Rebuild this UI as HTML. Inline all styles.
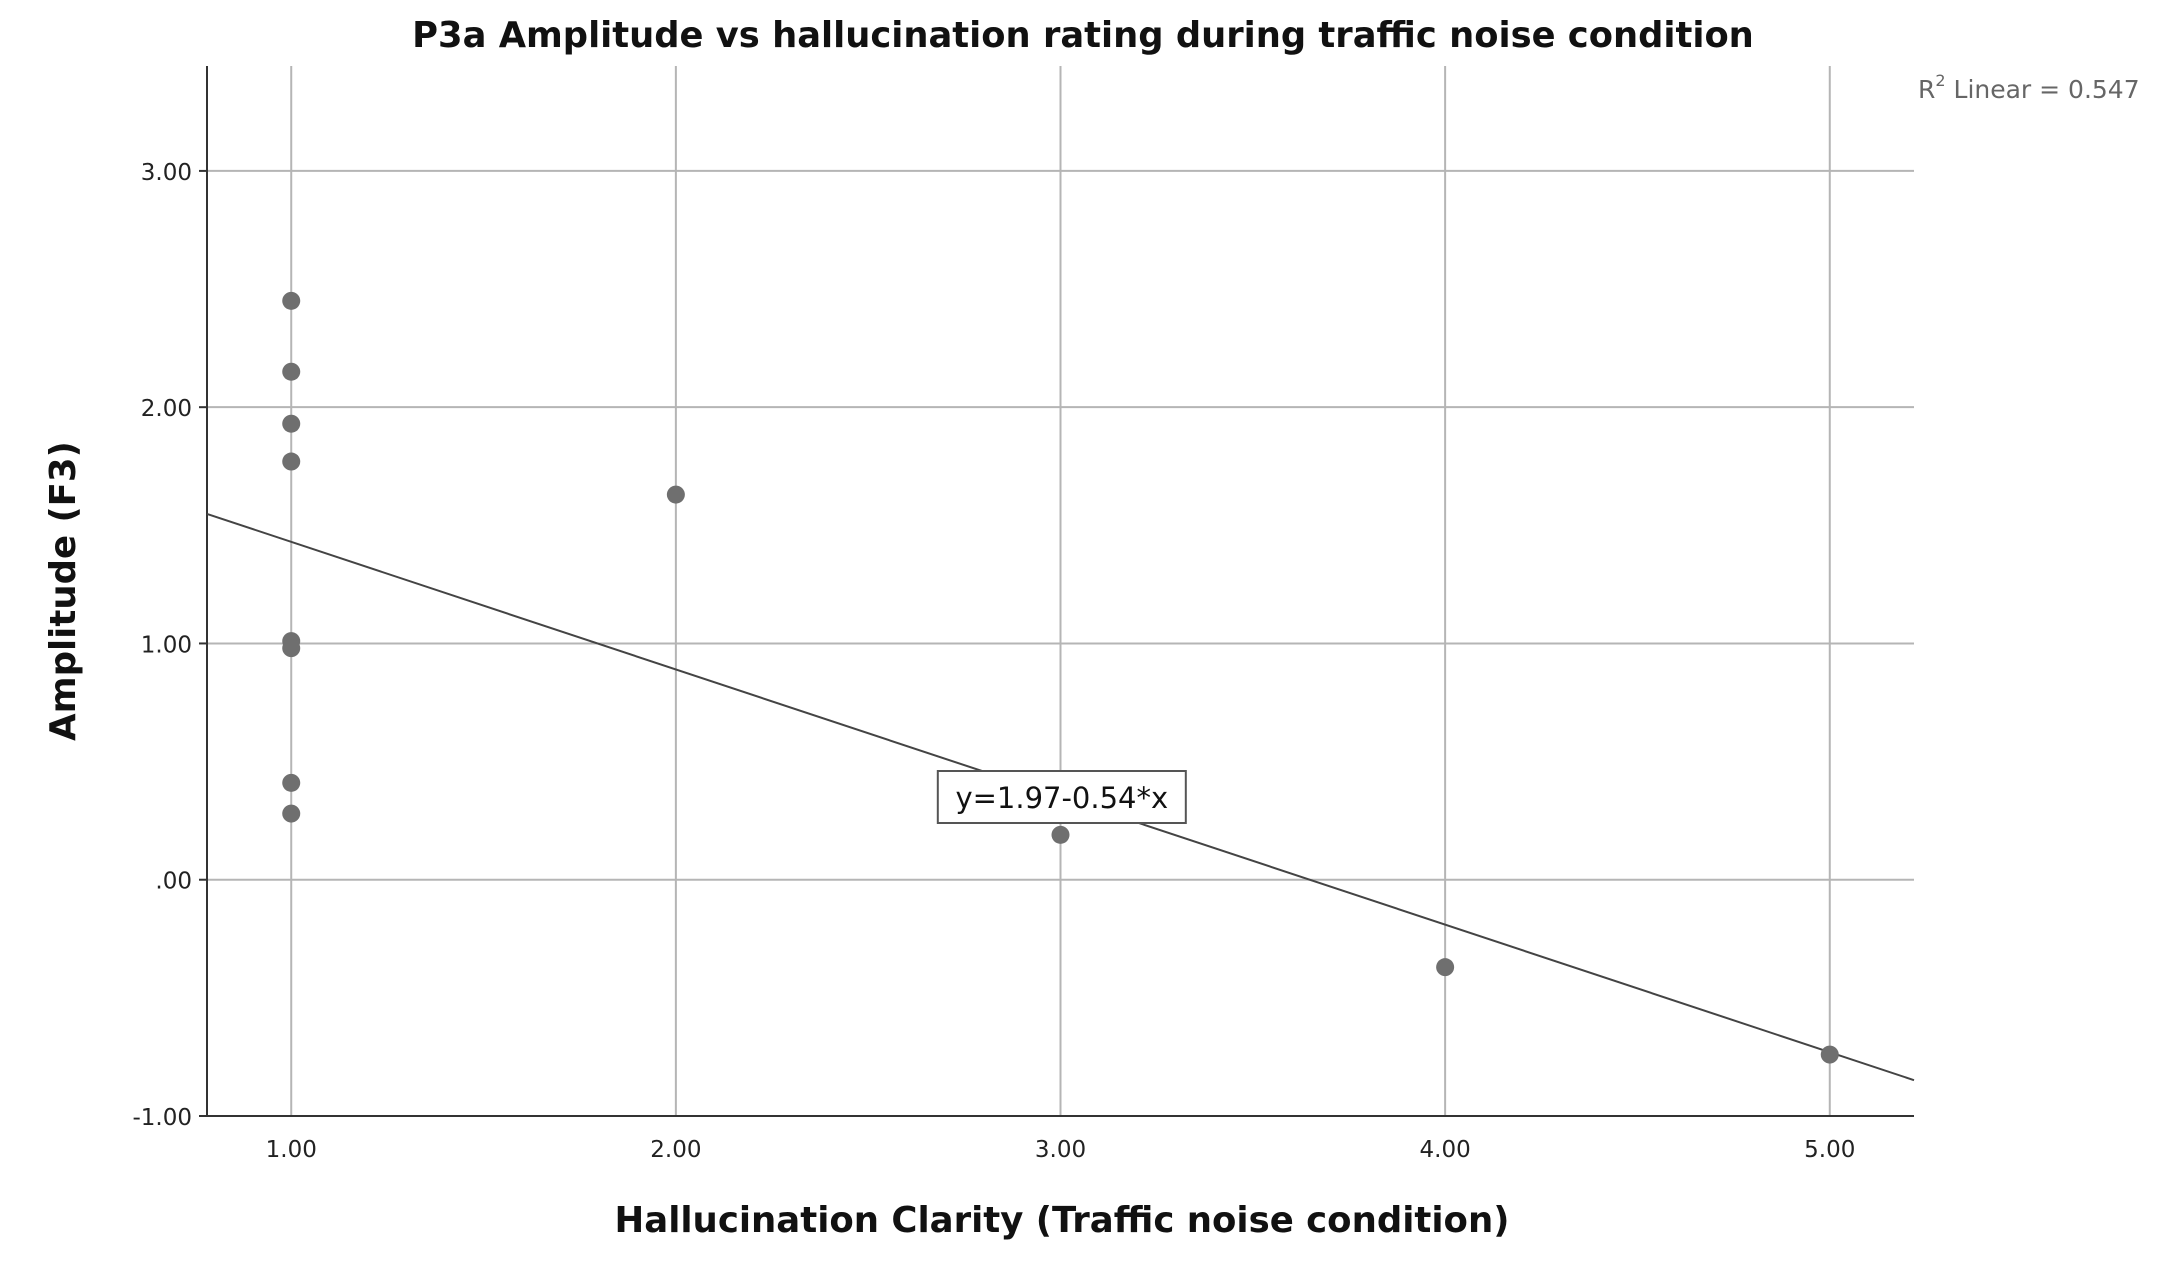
<!DOCTYPE html>
<html><head><meta charset="utf-8"><style>
html,body{margin:0;padding:0;background:#fff;}
svg{display:block;font-family:"DejaVu Sans","Liberation Sans",sans-serif;}
</style></head><body>
<svg id="chart" width="2165" height="1275" viewBox="0 0 2165 1275">
<rect width="2165" height="1275" fill="#fff"/>
<text x="1083" y="47" text-anchor="middle" font-size="35.3" font-weight="bold" fill="#111">P3a Amplitude vs hallucination rating during traffic noise condition</text>
<text x="1918" y="98" font-size="25" fill="#666">R<tspan font-size="16" dy="-12">2</tspan><tspan dy="12"> Linear = 0.547</tspan></text>
<g id="grid"></g>
<g id="axes"></g>
<g id="fit"></g>
<g id="pts"></g>
<text transform="translate(75,591) rotate(-90)" text-anchor="middle" font-size="35.5" font-weight="bold" fill="#111">Amplitude (F3)</text>
<text x="1062" y="1232" text-anchor="middle" font-size="35.5" font-weight="bold" fill="#111">Hallucination Clarity (Traffic noise condition)</text>
</svg>
<script>
const xTicks=[1,2,3,4,5];
const xTickLabels=["1.00","2.00","3.00","4.00","5.00"];
const yTicks=[-1,0,1,2,3];
const yTickLabels=["-1.00",".00","1.00","2.00","3.00"];
const pointsX=[1,1,1,1,1,1,1,1,2,3,4,5];
const pointsY=[2.45,2.15,1.93,1.77,1.01,0.98,0.41,0.28,1.63,0.19,-0.37,-0.74];
const fitIntercept=1.97, fitSlope=-0.54;
const fitLabel="y=1.97-0.54*x";

const L=207,R=1914,T=66,B=1116;
const xMin=0.781,xMax=5.219,yMin=-1,yMax=3.444;
const sx=v=>L+(v-xMin)/(xMax-xMin)*(R-L);
const sy=v=>B-(v-yMin)/(yMax-yMin)*(B-T);
const NS="http://www.w3.org/2000/svg";
function mk(tag,attrs,parent){const e=document.createElementNS(NS,tag);for(const k in attrs)e.setAttribute(k,attrs[k]);parent.appendChild(e);return e;}
const grid=document.getElementById('grid'),axes=document.getElementById('axes'),fit=document.getElementById('fit'),pts=document.getElementById('pts');
xTicks.forEach((v,i)=>{
 const l=mk('line',{x1:sx(v),x2:sx(v),y1:T,y2:B,stroke:'#b5b5b5','stroke-width':2},grid);
 
 
 const t=mk('text',{x:sx(v),y:B+41,'text-anchor':'middle','font-size':23,fill:'#222'},axes);
 t.textContent=xTickLabels[i];
 
 
});
yTicks.forEach((v,i)=>{
 const l=mk('line',{x1:L,x2:R,y1:sy(v),y2:sy(v),stroke:'#b5b5b5','stroke-width':2},grid);
 
 
 const tk=mk('line',{x1:L-8,x2:L,y1:sy(v),y2:sy(v),stroke:'#333','stroke-width':2},axes);
 
 
 const t=mk('text',{x:L-15,y:sy(v)+9,'text-anchor':'end','font-size':23,fill:'#222'},axes);
 t.textContent=yTickLabels[i];
 
 
});
const ya=mk('line',{x1:L,x2:L,y1:T,y2:B,stroke:'#333','stroke-width':2},axes);


const xa=mk('line',{x1:L,x2:R,y1:B,y2:B,stroke:'#333','stroke-width':2},axes);


const fl=mk('line',{x1:sx(xMin),y1:sy(fitIntercept+fitSlope*xMin),x2:sx(xMax),y2:sy(fitIntercept+fitSlope*xMax),stroke:'#444','stroke-width':2},fit);


const bx=sx(2.98)-115,by=771;
const box=mk('rect',{x:bx,y:by,width:248,height:52,fill:'#fff',stroke:'#555','stroke-width':2},fit);


const ft=mk('text',{x:bx+124,y:by+37,'text-anchor':'middle','font-size':29,fill:'#111'},fit);
ft.textContent=fitLabel;


pointsX.forEach((x,i)=>{
 const c=mk('circle',{cx:sx(x),cy:sy(pointsY[i]),r:9,fill:'#6f6f6f'},pts);
 
 
});
</script>
</body></html>
